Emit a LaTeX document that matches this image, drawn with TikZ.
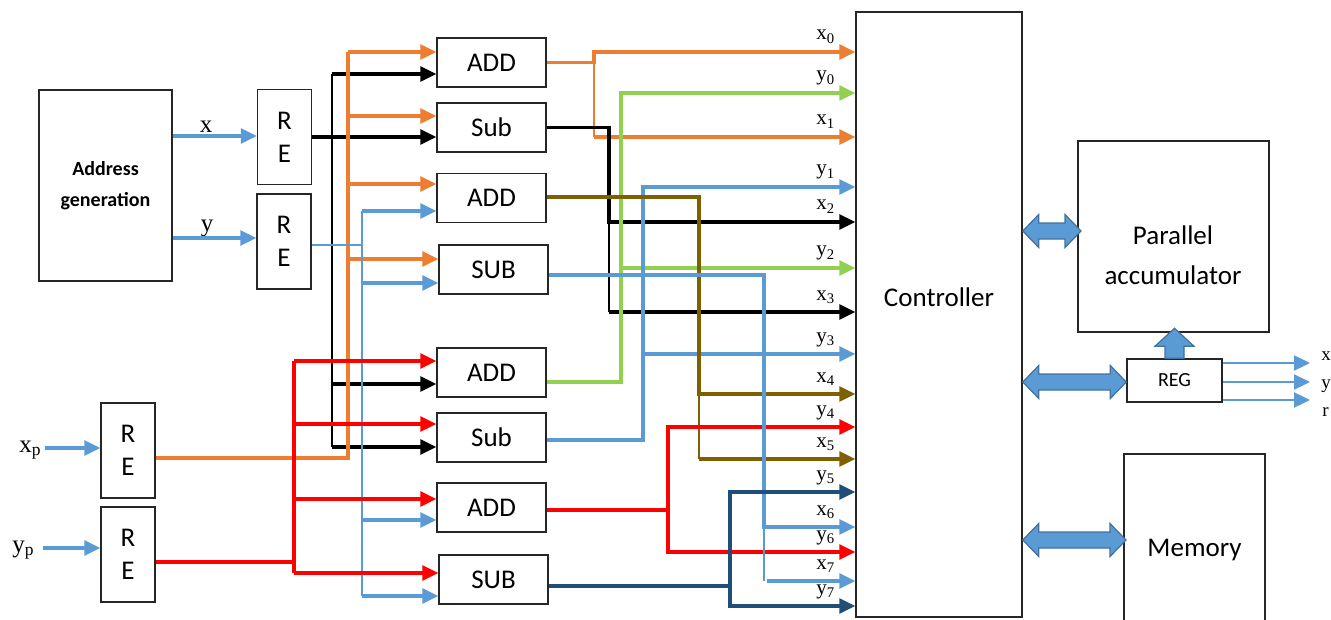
\documentclass[tikz,border=0pt]{standalone}
\usepackage{fontspec}
\setmainfont{Liberation Serif}
\newfontfamily\boxfont{Carlito}
\usetikzlibrary{arrows.meta,calc}

\definecolor{corange}{HTML}{ED7D31}
\definecolor{cgreen}{HTML}{92D050}
\definecolor{cblue}{HTML}{5B9BD5}
\definecolor{cbrown}{HTML}{7F6000}
\definecolor{cred}{HTML}{FF0000}
\definecolor{cnavy}{HTML}{1F4E79}
\definecolor{cblockedge}{HTML}{41719C}

% horizontal two-headed block arrow between two points
\newcommand\hbiarrow[2]{%
  \filldraw[blockarrow] (#1) -- ($(#1)+(16,-16.5)$) -- ($(#1)+(16,-8)$)
    -- ($(#2)+(-16,-8)$) -- ($(#2)+(-16,-16.5)$) -- (#2)
    -- ($(#2)+(-16,16.5)$) -- ($(#2)+(-16,8)$)
    -- ($(#1)+(16,8)$) -- ($(#1)+(16,16.5)$) -- cycle;}

\begin{document}
\begin{tikzpicture}[x=0.5pt,y=-0.5pt,
  blk/.style={draw=black!85,line width=0.75pt,inner sep=0pt,align=center,
    font=\boxfont\fontsize{13.5}{16.5}\selectfont},
  modbox/.style={blk,minimum width=54.5pt,minimum height=24.5pt,text depth=-1.5pt},
  rebox/.style={blk,minimum width=27pt,minimum height=47.5pt},
  wire/.style={line width=1.55pt},
  thinwire/.style={line width=0.85pt},
  arr/.style={-{Triangle[length=8pt,width=7.5pt]}},
  sig/.style={font=\fontsize{10.5}{12}\selectfont,inner sep=0pt,anchor=base west},
  outlab/.style={font=\fontsize{9.5}{11}\selectfont,inner sep=0pt,anchor=base west},
  lab/.style={font=\fontsize{12.5}{14}\selectfont,inner sep=0pt},
  blockarrow/.style={fill=cblue,draw=cblockedge,line width=0.6pt,line join=miter}]

\useasboundingbox (0,0) rectangle (1331,620);
\clip (0,0) rectangle (1331,620);

% ---------- blocks ----------
\node[blk,minimum width=66.5pt,minimum height=95.5pt,
      font=\boxfont\bfseries\fontsize{10}{15.5}\selectfont] (addr) at (105.5,185.5) {Address\\generation};
\node[rebox] (re1)  at (284.5,137)  {R\\E};
\node[rebox] (re2)  at (284,241.5)  {R\\E};
\node[rebox] (rep1) at (128,450.5)  {R\\E};
\node[rebox] (rep2) at (128,554.5)  {R\\E};

\node[modbox] (add1) at (491.5,62.5)  {ADD};
\node[modbox] (sub1) at (491.5,127.5) {Sub};
\node[modbox] (add2) at (491.5,198)   {ADD};
\node[modbox] (sub2) at (493.5,269.5) {SUB};
\node[modbox] (add3) at (491.5,372.5) {ADD};
\node[modbox] (sub3) at (491.5,437.5) {Sub};
\node[modbox] (add4) at (491.5,507.5) {ADD};
\node[modbox] (sub4) at (493.5,579.5) {SUB};

\node[blk,minimum width=83pt,minimum height=302.5pt] (ctrl) at (939,314.5) {};
\node[font=\boxfont\fontsize{13.5}{16.5}\selectfont] (ctrltxt) at (939,297) {Controller};
\node[blk,minimum width=95.5pt,minimum height=95.5pt] (acc) at (1173.5,236.5) {};
\node[font=\boxfont\fontsize{13.5}{20}\selectfont,align=center] (acctxt) at (1173,255) {Parallel\\accumulator};
\node[blk,minimum width=47.5pt,minimum height=21.5pt,font=\boxfont\fontsize{10}{12}\selectfont] (reg) at (1174.5,380.5) {REG};
\node[blk,minimum width=70.5pt,minimum height=96pt] (mem) at (1194.5,550) {Memory};

% ---------- inputs ----------
\node[lab,anchor=base] (lx) at (206,133) {x};
\node[lab,anchor=base] (ly) at (207,231) {y};
\draw[wire,cblue,arr] (addr.east |- 0,136) -- (re1.west |- 0,136);
\draw[wire,cblue,arr] (addr.east |- 0,238) -- (re2.west |- 0,238);

\node[lab,anchor=base west] (lxp) at (19,452) {x\textsubscript{p}};
\node[lab,anchor=base west] (lyp) at (12,552) {y\textsubscript{p}};
\coordinate (xpsrc) at (45,448);
\coordinate (ypsrc) at (43,548);
\draw[wire,cblue,arr] (xpsrc) -- (rep1.west |- xpsrc);
\draw[wire,cblue,arr] (ypsrc) -- (rep2.west |- ypsrc);

% ---------- distribution buses ----------
% black bus from the x register
\draw[wire,arr] (re1.east) -- (sub1.west |- re1.east);
\draw[thinwire] (332,74) -- (332,447);
\foreach \y/\n in {74/add1,384/add3,447/sub3}
  \draw[wire,arr] (332,\y) -- (\n.west |- 0,\y);

% orange bus from the xp register
\draw[wire,corange] (rep1.east |- 0,458) -| (348,52);
\foreach \y/\n in {52/add1,116/sub1,184/add2,259/sub2}
  \draw[wire,corange,arr] (348,\y) -- (\n.west |- 0,\y);

% blue bus from the y register
\draw[cblue,line width=1.1pt] (re2.east |- 0,245) -- (362,245);
\draw[thinwire,cblue] (362,211) -- (362,596);
\foreach \y/\n in {211/add2,283/sub2,520/add4,596/sub4}
  \draw[wire,cblue,arr] (362,\y) -- (\n.west |- 0,\y);

% red bus from the yp register
\draw[wire,cred] (rep2.east |- 0,562) -| (294,361);
\draw[wire,cred] (294,562) -- (294,573);
\foreach \y/\n in {361/add3,424/sub3,499/add4,573/sub4}
  \draw[wire,cred,arr] (294,\y) -- (\n.west |- 0,\y);

% ---------- controller inputs ----------
\foreach \n/\y in {x0/52,y0/93,x1/137,y1/187,x2/222,y2/268,x3/312,y3/354,
                   x4/394,y4/427,x5/459,y5/492,x6/527,y6/552,x7/581,y7/606}
  \coordinate (in-\n) at (ctrl.west |- 0,\y);

\foreach \l/\s/\y in {x/0/52,y/0/93,x/1/137,y/1/187,x/2/222,y/2/268,x/3/312,y/3/354,
                      x/4/394,y/4/427,x/5/459,y/5/492,x/6/527,y/6/552,x/7/581,y/7/606}
  \node[sig] (lab-\l\s) at (816,\y-12) {\l\textsubscript{\s}};

% ADD (x) -> x0, x1
\draw[wire,corange,arr] (add1.east) -| (594,52) -- (in-x0);
\draw[thinwire,corange] (594,52) -- (594,137);
\draw[wire,corange,arr] (594,137) -- (in-x1);

% Sub (x) -> x2, x3
\draw[wire,arr] (sub1.east) -| (609,222) -- (in-x2);
\draw[thinwire] (609,222) -- (609,312);
\draw[wire,arr] (609,312) -- (in-x3);

% ADD -> y0, y2
\draw[wire,cgreen,arr] (add3.east |- 0,382) -| (621,93) -- (in-y0);
\draw[wire,cgreen,arr] (621,268) -- (in-y2);

% Sub -> y1, y3
\draw[wire,cblue,arr] (sub3.east |- 0,440) -| (643,187) -- (in-y1);
\draw[wire,cblue,arr] (643,354) -- (in-y3);

% ADD -> x4, x5
\draw[wire,cbrown,arr] (add2.east |- 0,197) -| (699,394) -- (in-x4);
\draw[thinwire,cbrown] (699,394) -- (699,459);
\draw[wire,cbrown,arr] (699,459) -- (in-x5);

% ADD -> y4, y6
\draw[wire,cred,arr] (add4.east |- 0,510) -| (668,427) -- (in-y4);
\draw[wire,cred,arr] (668,510) |- (in-y6);

% SUB -> x6, x7
\draw[wire,cblue,arr] (sub2.east |- 0,275) -| (764,527) -- (in-x6);
\draw[thinwire,cblue] (764,527) -- (764,581);
\draw[wire,cblue,arr] (767,581) -- (in-x7);

% SUB -> y5, y7
\draw[wire,cnavy,arr] (sub4.east |- 0,586) -| (730,492) -- (in-y5);
\draw[wire,cnavy,arr] (730,586) |- (in-y7);

% ---------- right-hand side ----------
\coordinate (ba1l) at (ctrl.east |- 0,231);
\coordinate (ba1r) at (1081,231);
\hbiarrow{ba1l}{ba1r}
\coordinate (ba2l) at (ctrl.east |- 0,382);
\coordinate (ba2r) at (reg.west |- 0,382);
\hbiarrow{ba2l}{ba2r}
\coordinate (ba3l) at (ctrl.east |- 0,540);
\coordinate (ba3r) at (1126,540);
\hbiarrow{ba3l}{ba3r}

% REG -> accumulator
\filldraw[blockarrow] ($(reg.north)+(-9.5,0)$) -- ($(reg.north)+(-9.5,-12)$)
  -- ($(reg.north)+(-19.5,-12)$) -- ($(reg.north)+(0,-30)$)
  -- ($(reg.north)+(19.5,-12)$) -- ($(reg.north)+(9.5,-12)$)
  -- ($(reg.north)+(9.5,0)$) -- cycle;

% REG outputs
\coordinate (ox) at (1310,363);
\coordinate (oy) at (1310,382);
\coordinate (or) at (1310,400);
\draw[cblue,line width=1.1pt,arr] (reg.east |- ox) -- (ox);
\draw[cblue,line width=1.1pt,arr] (reg.east |- oy) -- (oy);
\draw[cblue,line width=1.1pt,arr] (reg.east |- or) -- (or);
\node[outlab] (lox) at (1321,360) {x};
\node[outlab] (loy) at (1321,388) {y};
\node[outlab] (lor) at (1322,416) {r};

\end{tikzpicture}
\end{document}
